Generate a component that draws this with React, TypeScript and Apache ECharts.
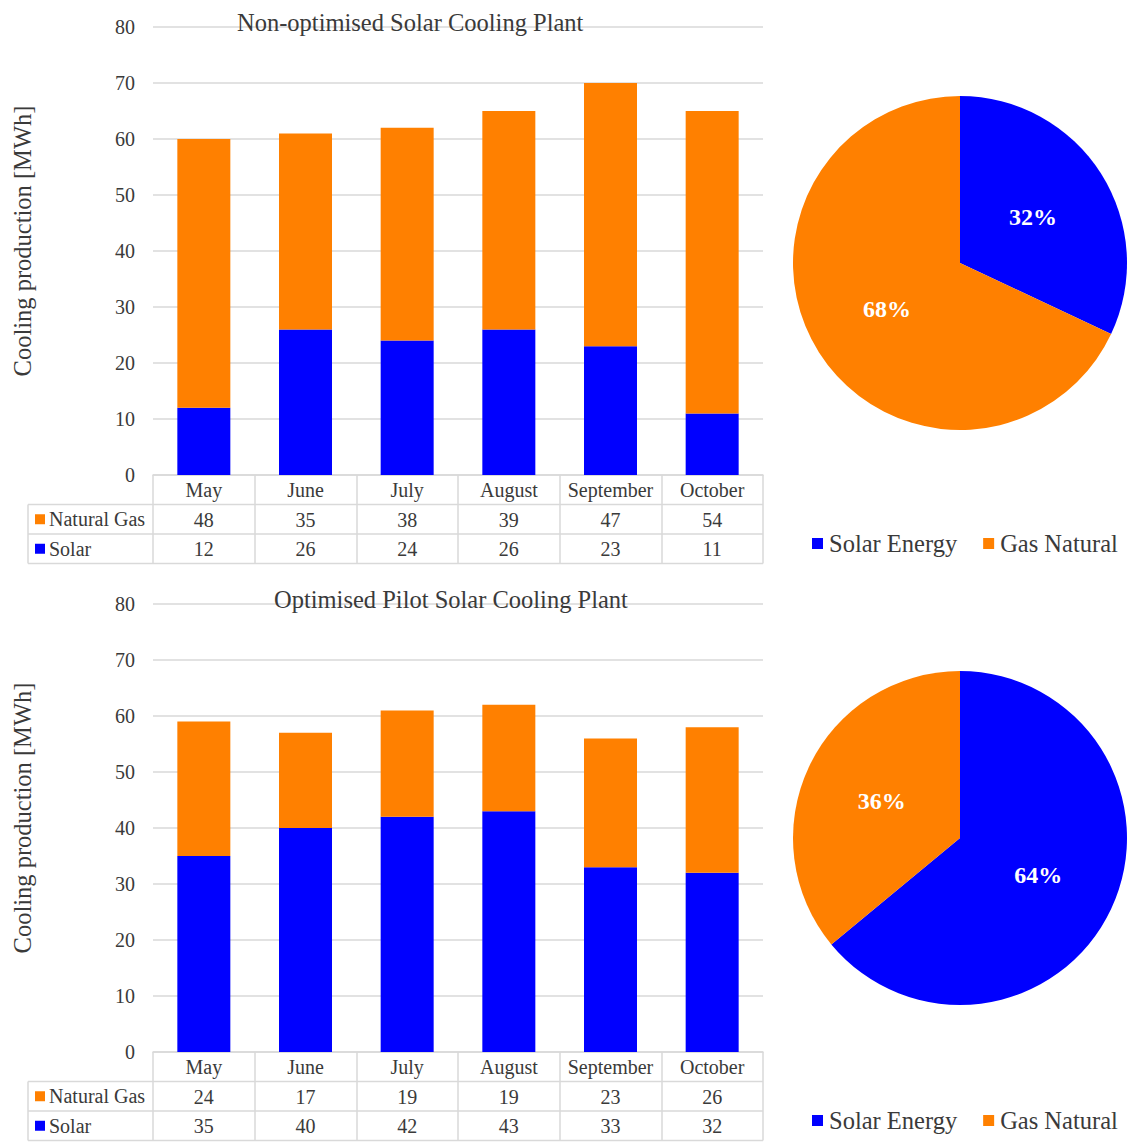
import React, { useEffect, useRef } from "react";
import * as echarts from "echarts";

// Monthly cooling production, MWh
const MONTHS = ["May", "June", "July", "August", "September", "October"];
const BASE_GAS = [48, 35, 38, 39, 47, 54];
const BASE_SOLAR = [12, 26, 24, 26, 23, 11];
const OPT_GAS = [24, 17, 19, 19, 23, 26];
const OPT_SOLAR = [35, 40, 42, 43, 33, 32];

// Yearly share of cooling, %
const PIE_NAMES = ["Solar Energy", "Gas Natural"];
const BASE_SHARE = [32, 68];
const OPT_SHARE = [64, 36];

const Y_MIN = 0;
const Y_MAX = 80;
const Y_STEP = 10;

const TITLES = ["Non-optimised Solar Cooling Plant", "Optimised Pilot Solar Cooling Plant"];
const Y_NAME = "Cooling production [MWh]";
const GAS_NAME = "Natural Gas";
const SOLAR_NAME = "Solar";

const BLUE = "#0000FF";
const ORANGE = "#FF8000";
const GRID_COLOR = "#d9d9d9";
const TEXT = "#3a3a3a";
const FONT = "'Liberation Serif', 'Times New Roman', serif";

const PLOT_LEFT = 153;
const PLOT_WIDTH = 610;
const PLOT_HEIGHT = 448;
const PANEL_TOPS = [27, 604];
const ROW_H = 29.5;

export default function App() {
  const ref = useRef<HTMLDivElement>(null);

  useEffect(() => {
    if (!ref.current) return;
    const chart = echarts.init(ref.current, undefined, { renderer: "svg" });

    const panels = [
      { gas: BASE_GAS, solar: BASE_SOLAR, share: BASE_SHARE },
      { gas: OPT_GAS, solar: OPT_SOLAR, share: OPT_SHARE },
    ];

    const grid: any[] = [];
    const xAxis: any[] = [];
    const yAxis: any[] = [];
    const series: any[] = [];
    const graphic: any[] = [];
    const title: any[] = [];
    const legend: any[] = [];

    const labelStyle = { fontFamily: FONT, fontSize: 20, color: TEXT };

    panels.forEach((p, g) => {
      const top = PANEL_TOPS[g];
      const base = top + PLOT_HEIGHT;
      grid.push({ left: PLOT_LEFT, top, width: PLOT_WIDTH, height: PLOT_HEIGHT });

      // month header row; its ticks form the table's column dividers
      xAxis.push({
        type: "category",
        gridIndex: g,
        data: MONTHS,
        position: "bottom",
        axisLine: { show: true, lineStyle: { color: GRID_COLOR, width: 1.5 } },
        axisTick: {
          show: true,
          interval: 0,
          length: ROW_H * 3,
          lineStyle: { color: GRID_COLOR, width: 1.5 },
        },
        axisLabel: { ...labelStyle, margin: 5, interval: 0 },
      });
      // data-table rows
      [p.gas, p.solar].forEach((vals, r) => {
        xAxis.push({
          type: "category",
          gridIndex: g,
          data: vals.map(String),
          position: "bottom",
          offset: ROW_H * (r + 1),
          axisLine: { show: false },
          axisTick: { show: false },
          axisLabel: { ...labelStyle, margin: 5, interval: 0 },
        });
      });

      yAxis.push({
        type: "value",
        gridIndex: g,
        min: Y_MIN,
        max: Y_MAX,
        interval: Y_STEP,
        axisLine: { show: false },
        axisTick: { show: false },
        axisLabel: { ...labelStyle, margin: 18 },
        splitLine: { lineStyle: { color: GRID_COLOR, width: 1.5 } },
        name: Y_NAME,
        nameLocation: "middle",
        nameGap: 118,
        nameTextStyle: { fontFamily: FONT, fontSize: 24.5, color: TEXT, padding: [0, 0, 0, 20] },
      });

      const xi = g * 3;
      series.push({
        type: "bar",
        name: SOLAR_NAME,
        xAxisIndex: xi,
        yAxisIndex: g,
        stack: "s" + g,
        barWidth: 53,
        itemStyle: { color: BLUE },
        data: p.solar,
      });
      series.push({
        type: "bar",
        name: GAS_NAME,
        xAxisIndex: xi,
        yAxisIndex: g,
        stack: "s" + g,
        barWidth: 53,
        itemStyle: { color: ORANGE },
        data: p.gas,
      });

      // share pie
      const cy = g === 0 ? 263 : 838;
      series.push({
        type: "pie",
        center: [960, cy],
        radius: 167,
        startAngle: 90,
        clockwise: true,
        label: {
          position: "inside",
          formatter: "{c}%",
          color: "#ffffff",
          fontFamily: FONT,
          fontSize: 24,
          fontWeight: "bold",
        },
        labelLine: { show: false },
        itemStyle: { borderWidth: 0 },
        emphasis: { disabled: true },
        data: PIE_NAMES.map((n, i) => ({
          name: n,
          value: p.share[i],
          itemStyle: { color: i === 0 ? BLUE : ORANGE },
        })),
      });

      legend.push({
        left: 807,
        top: base + 51,
        icon: "rect",
        itemWidth: 11,
        itemHeight: 11,
        itemGap: 26,
        selectedMode: false,
        data: PIE_NAMES,
        textStyle: { fontFamily: FONT, fontSize: 24.5, color: TEXT, padding: [0, 0, 0, 1] },
      });

      title.push({
        text: TITLES[g],
        left: g === 0 ? 232 : 269,
        top: top - 22,
        textStyle: { fontFamily: FONT, fontSize: 24.5, fontWeight: "normal", color: TEXT },
      });

      // table frame: row rules and the left label column
      const right = PLOT_LEFT + PLOT_WIDTH;
      const line = (x1: number, y1: number, x2: number, y2: number) => ({
        type: "line",
        shape: { x1, y1, x2, y2 },
        style: { stroke: GRID_COLOR, lineWidth: 1.5 },
        silent: true,
      });
      for (let r = 1; r <= 3; r++) {
        graphic.push(line(28, base + ROW_H * r, right, base + ROW_H * r));
      }
      graphic.push(line(28, base + ROW_H, 28, base + ROW_H * 3));

      [
        { name: GAS_NAME, color: ORANGE },
        { name: SOLAR_NAME, color: BLUE },
      ].forEach((row, r) => {
        const cyRow = base + ROW_H * (r + 1) + ROW_H / 2;
        graphic.push({
          type: "rect",
          shape: { x: 35, y: cyRow - 5, width: 10, height: 10 },
          style: { fill: row.color },
          silent: true,
        });
        graphic.push({
          type: "text",
          x: 49,
          y: cyRow,
          style: {
            text: row.name,
            fontFamily: FONT,
            fontSize: 20,
            fill: TEXT,
            verticalAlign: "middle",
            align: "left",
          },
          silent: true,
        });
      });
    });

    chart.setOption({
      animation: false,
      backgroundColor: "#ffffff",
      textStyle: { fontFamily: FONT },
      title,
      legend,
      grid,
      xAxis,
      yAxis,
      series,
      graphic,
    });

    return () => chart.dispose();
  }, []);

  return (
    <div
      ref={ref}
      style={{ position: "absolute", left: 0, top: 0, width: 1131, height: 1142 }}
    />
  );
}
